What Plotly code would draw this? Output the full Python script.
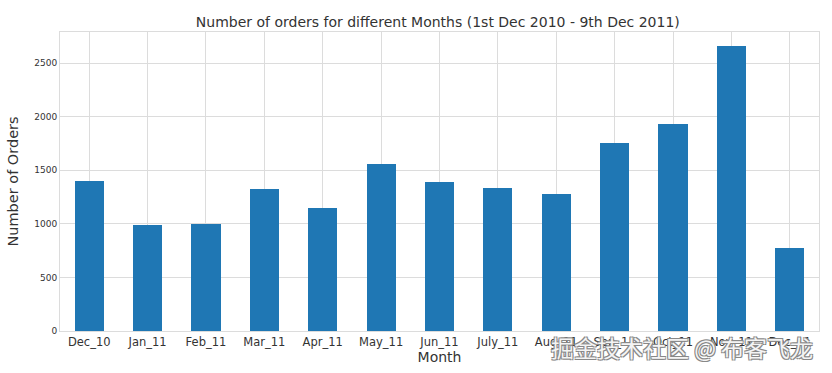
import plotly.graph_objects as go

months = ["Dec_10", "Jan_11", "Feb_11", "Mar_11", "Apr_11", "May_11", "Jun_11",
          "July_11", "Aug_11", "Sep_11", "Oct_11", "Nov_11", "Dec_11"]
orders = [1400, 987, 998, 1321, 1149, 1555, 1393, 1331, 1281, 1756, 1929, 2658, 778]
y_ticks = [0, 500, 1000, 1500, 2000, 2500]

fig = go.Figure()
fig.add_trace(go.Bar(
    x=list(range(len(months))), y=orders, width=0.5,
    marker=dict(color="#1f77b4", line=dict(width=0)),
))

fig.update_layout(
    width=832, height=373,
    margin=dict(l=57, r=13, t=32, b=42),
    paper_bgcolor="white", plot_bgcolor="white",
    font=dict(family="DejaVu Sans", color="#262626"),
    title=dict(text="Number of orders for different Months (1st Dec 2010 - 9th Dec 2011)",
               x=0.5262, xanchor="center", y=0.94, yanchor="middle",
               font=dict(size=14, color="#333333")),
    showlegend=False,
    bargap=0,
)
fig.update_xaxes(
    tickmode="array", tickvals=list(range(len(months))), ticktext=months,
    range=[-0.5, 12.5], showgrid=True, gridcolor="#dcdcdc", gridwidth=1,
    showline=True, linecolor="#dcdcdc", mirror=True, ticks="",
    tickfont=dict(size=11.5, color="#333333"),
    title=dict(text="Month", font=dict(size=14, color="#333333"), standoff=2),
)
fig.update_yaxes(
    range=[0, 2790], tickvals=y_ticks, showgrid=True, gridcolor="#dcdcdc",
    gridwidth=1, showline=True, linecolor="#dcdcdc", mirror=True, ticks="",
    zeroline=False, tickfont=dict(size=9, color="#333333"),
    title=dict(text="Number of Orders", font=dict(size=14.5, color="#333333"), standoff=12),
)
fig.add_annotation(
    text="掘金技术社区 @ 布客飞龙", xref="paper", yref="paper",
    x=0.995, y=-0.0535, xanchor="right", yanchor="middle", showarrow=False,
    font=dict(family="Noto Sans CJK SC", size=23, color="#f4f4f4",
              shadow="1px 1px 0 #888, -1px -1px 0 #888, 1px -1px 0 #888, -1px 1px 0 #888"),
)
fig.write_html("out.html", config={"displayModeBar": False},
               post_script="document.body.style.margin='0';")
